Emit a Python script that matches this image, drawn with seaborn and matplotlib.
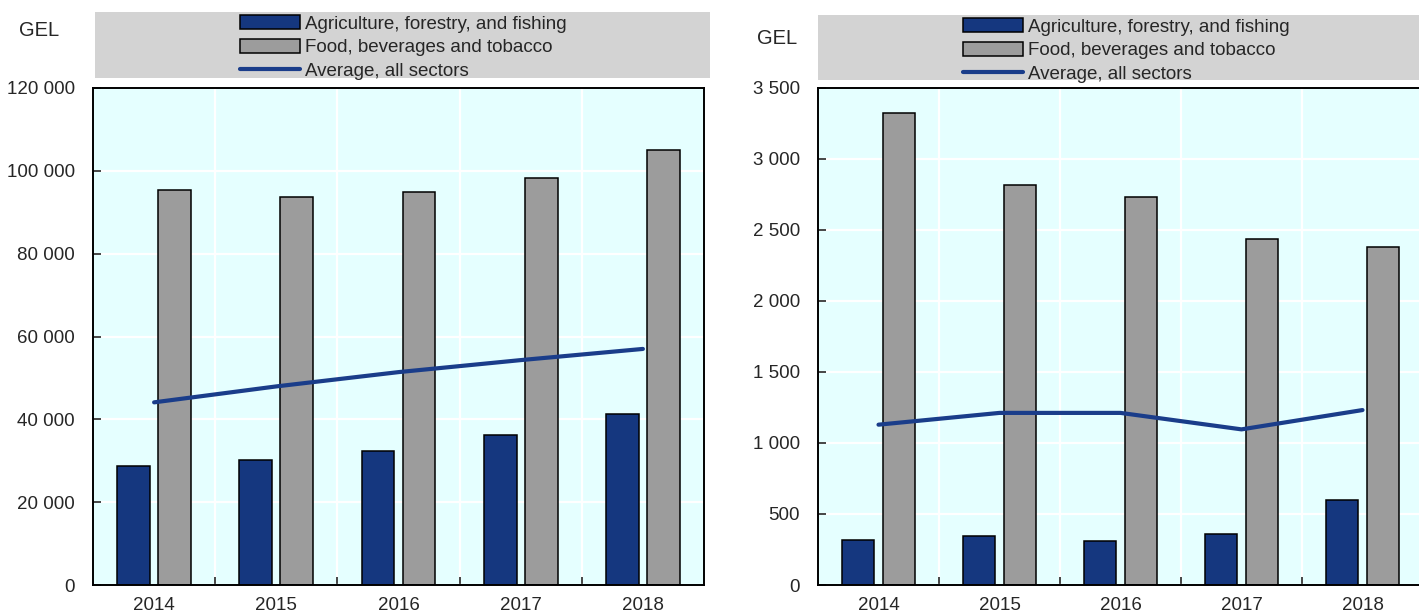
import matplotlib
matplotlib.use("Agg")
import matplotlib.pyplot as plt
from matplotlib import font_manager
from matplotlib.patches import Patch, Rectangle
from matplotlib.lines import Line2D
from matplotlib.ticker import FuncFormatter, FixedLocator
import numpy as np
import pandas as pd
import seaborn as sns

# ---- data ----
years = ["2014", "2015", "2016", "2017", "2018"]
sectors = ["Agriculture, forestry, and fishing", "Food, beverages and tobacco"]
avg_label = "Average, all sectors"

left_agri = [28800, 30200, 32300, 36100, 41400]
left_food = [95300, 93600, 94900, 98300, 105100]
left_avg = [44100, 47950, 51400, 54300, 57000]

right_agri = [314, 347, 312, 362, 597]
right_food = [3325, 2820, 2731, 2438, 2383]
right_avg = [1129, 1212, 1212, 1096, 1232]

unit = "GEL"

NAVY = "#15377f"
GREY = "#9c9c9c"
LINE = "#1a3d8a"
BG = "#e5ffff"
BOX = "#d3d3d3"

sns.set_theme(style="white")
names = {f.name for f in font_manager.fontManager.ttflist}
if "Liberation Sans Narrow" in names:
    plt.rcParams["font.family"] = ["Liberation Sans Narrow", "Liberation Sans"]
    tick_fs, leg_fs = 15.5, 16
else:
    plt.rcParams["font.family"] = ["Liberation Sans", "DejaVu Sans"]
    tick_fs, leg_fs = 13.5, 13.5

W, H = 1419, 613
fig = plt.figure(figsize=(W / 100, H / 100), dpi=100)


def px(x0, y0, x1, y1):
    # pixel box (top-left origin) -> figure fraction rect
    return [x0 / W, 1 - y1 / H, (x1 - x0) / W, (y1 - y0) / H]


def panel(rect, agri, food, avg, ymax, ystep):
    ax = fig.add_axes(rect)
    df = pd.DataFrame({
        "year": years * 2,
        "sector": [sectors[0]] * len(years) + [sectors[1]] * len(years),
        "value": agri + food,
    })
    sns.barplot(data=df, x="year", y="value", hue="sector", hue_order=sectors,
                order=years, palette=[NAVY, GREY], width=0.67, gap=0.2,
                edgecolor="black", linewidth=1.1, saturation=1, legend=False,
                ax=ax)
    pos = np.arange(len(years))
    sns.lineplot(x=pos, y=avg, color=LINE, lw=3, ax=ax)
    ax.set_facecolor(BG)
    ax.set_xlim(-0.5, len(years) - 0.5)
    ax.set_ylim(0, ymax)
    ax.set_yticks(np.arange(0, ymax + 1, ystep))
    ax.yaxis.set_major_formatter(
        FuncFormatter(lambda v, _: f"{v:,.0f}".replace(",", " ")))
    ax.xaxis.set_minor_locator(FixedLocator(pos[:-1] + 0.5))
    ax.set_axisbelow(True)
    ax.grid(axis="y", which="major", color="white", lw=1.6)
    ax.grid(axis="x", which="minor", color="white", lw=1.6)
    ax.tick_params(axis="y", direction="in", length=6, width=1.2,
                   labelsize=tick_fs, pad=13, left=True)
    ax.tick_params(axis="x", which="major", length=0, labelsize=tick_fs, pad=9)
    ax.tick_params(axis="x", which="minor", direction="in", length=6,
                   width=1.2, bottom=True)
    ax.set_xlabel("")
    ax.set_ylabel("")
    for s in ax.spines.values():
        s.set_color("black")
        s.set_linewidth(1.4)
    return ax


panel(px(93, 88, 704, 585), left_agri, left_food, left_avg, 120000, 20000)
panel(px(818, 88, 1423, 585), right_agri, right_food, right_avg, 3500, 500)

# grey legend boxes
for x0, y0, x1, y1 in [(95, 12, 710, 78), (818, 15, 1419, 80)]:
    fig.patches.append(Rectangle((x0 / W, 1 - y1 / H), (x1 - x0) / W,
                                 (y1 - y0) / H, transform=fig.transFigure,
                                 facecolor=BOX, edgecolor="none", zorder=0))

handles = [Patch(facecolor=NAVY, edgecolor="black", linewidth=1.1),
           Patch(facecolor=GREY, edgecolor="black", linewidth=1.1),
           Line2D([], [], color=LINE, lw=3)]
labels = sectors + [avg_label]
for hx, ty in [(240, 15), (963, 18)]:
    fig.legend(handles, labels, loc="upper left",
               bbox_to_anchor=(hx / W, 1 - ty / H), frameon=False,
               fontsize=leg_fs, handlelength=3.2, handleheight=0.8,
               handletextpad=0.25, labelspacing=0.31, borderpad=0,
               borderaxespad=0)

fig.text(39 / W, 1 - 30 / H, unit, ha="center", va="center",
         fontsize=tick_fs + 1)
fig.text(777 / W, 1 - 38 / H, unit, ha="center", va="center",
         fontsize=tick_fs + 1)

fig.savefig("out.png", dpi=100)
